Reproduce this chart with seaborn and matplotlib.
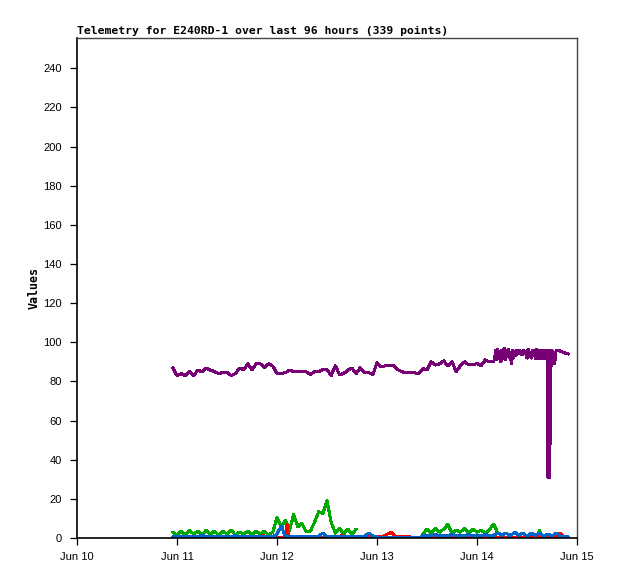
import matplotlib
matplotlib.use('Agg')
import matplotlib.pyplot as plt
import matplotlib.dates as mdates
import seaborn as sns
import pandas as pd

# hours counted from Jun 10 00:00
start = pd.Timestamp('2024-06-10')

purple_hours = list(range(23, 101)) + [
    100.25, 100.5, 100.75, 101, 101.25, 101.5, 101.75, 102, 102.25, 102.5,
    102.75, 103, 103.25, 103.5, 103.75, 104, 104.25, 104.5, 104.75, 105,
    105.25, 105.5, 105.75, 106, 106.25, 106.5, 106.75, 107, 107.25, 107.5,
    107.75, 108, 108.25, 108.5, 108.75, 109, 109.25, 109.5, 109.75, 110,
    110.25, 110.5, 110.75, 111, 111.25, 111.5, 111.75, 112, 112.25, 112.5,
    112.75, 112.9, 113.0, 113.2, 113.4, 113.6, 113.8, 114.2, 114.6, 115, 116,
    117, 118]
purple_vals = [
    87, 83, 84, 83, 85, 83, 85.8, 85, 86.8, 85.8, 85, 84, 84.5, 84.8, 83, 84,
    86.8, 86, 89, 86, 89, 89, 87, 89, 87.8, 84.1, 84.1, 84.5, 85.8, 85, 85, 85,
    84.9, 83.5, 85, 85, 86, 86, 83, 88, 83.5, 84, 85.8, 86.8, 84, 87, 84.5,
    84.5, 83.5, 89.5, 87.5, 88, 88, 88, 86, 84.9, 84.5, 84.4, 84.4, 84, 86.5,
    86, 90, 88.4, 89, 90.5, 88, 90, 85, 88, 90, 88.5, 88.5, 89.2, 88, 91, 90,
    90,
    92, 96, 91, 96.5, 92, 95, 90, 96, 92, 97, 91, 96, 93, 96.5, 92, 95, 89,
    96, 92, 95.5, 93, 96, 94, 95, 96, 94, 95.5, 93.5, 96, 94.5, 95, 92, 96.5,
    94, 95, 92, 96, 93, 96, 91.5, 96.5, 92, 96, 91.5, 96, 91.5, 96, 91.5, 96,
    91.5, 96, 96, 31, 96, 31, 61, 96, 95, 89, 96, 95.5, 94.6, 94]

green_hours_a = list(range(23, 68))
green_vals_a = [
    3, 1.5, 3.5, 1.5, 4, 2, 3.5, 1.5, 4, 2, 3.5, 1.5, 3.5, 2, 4, 1.5, 3, 2,
    3.5, 1.5, 3.5, 2, 3.5, 1.5, 3, 10.5, 5.5, 9, 4, 12, 5.8, 7.5, 3.2, 3.5, 8,
    13.5, 12.5, 19, 8, 2.5, 5, 2, 4.5, 2, 4.5]
green_hours_b = list(range(83, 102))
green_vals_b = [2, 4.5, 2.5, 5, 3, 4.5, 7, 2.5, 4, 3, 5, 2.5, 4.5, 3, 4, 2.5,
                4.5, 7, 2.5]
green_hours_c = [110.5, 111, 111.5]
green_vals_c = [0.5, 4, 0.5]

blue_hours = list(range(23, 119))
blue_vals = [
    0.5, 1, 0.5, 1, 0.5, 1, 0.5, 1.5, 0.5, 1, 0.5, 1, 0.5, 1, 0.5, 1.5, 0.5, 1,
    0.5, 1, 0.5, 1, 0.5, 1, 0.5,
    2, 6, 1, 0.5, 1, 0.5, 1, 0.5, 1, 0.5, 1, 2.5, 0.5, 1, 0.5, 1, 0.5, 1, 0.5,
    1, 0.5, 1, 2.5, 1, 0.5, 0, 0, 0, 0, 0, 0, 0, 0, 0, 0, 1, 1.5, 1, 2, 1, 1.5,
    1, 2, 1, 1.5, 1, 2, 1, 1.5, 1, 2, 1, 1.5, 2.5, 1.5, 2.5, 1, 3, 1.5, 2.5, 1,
    2.5, 1.5, 2.5, 1, 2, 1, 2.5, 1, 1, 0.5]

red_hours = [23, 44, 44.6, 45.2, 50, 50.4, 50.8, 63, 63.5, 64, 68, 68.3, 69,
             72, 73, 74, 75, 75.5, 76, 76.5, 80, 80.5, 83, 83.5, 84, 108, 108.5,
             109, 110, 111, 115, 115.5, 116, 116.5, 117, 118]
red_vals = [0, 0, 1.5, 0, 0, 7, 0, 0, 1.5, 0, 0, 1, 0.5, 1, 0.5, 1.5, 2.5, 3,
            1.5, 0.5, 0.5, 0, 0, 1, 0, 0, 1.5, 0.5, 1.5, 0, 0, 1.5, 2.5, 1.5,
            0.5, 0.5]


def to_df(hours, vals):
    return pd.DataFrame({'time': start + pd.to_timedelta(hours, unit='h'),
                         'value': vals})


sns.set_style('white')
fig = plt.figure(figsize=(6.18, 5.79), dpi=100)
ax = fig.add_axes([77 / 618, 1 - 538 / 579, 500 / 618, 500 / 579])

lw = 1.5
kw = dict(x='time', y='value', lw=lw, estimator=None, sort=False, ax=ax,
          antialiased=False)
sns.lineplot(data=to_df(purple_hours, purple_vals), color='#770077', **kw)
for h, v in [(green_hours_a, green_vals_a), (green_hours_b, green_vals_b),
             (green_hours_c, green_vals_c)]:
    sns.lineplot(data=to_df(h, v), color='#00aa00', **kw)
sns.lineplot(data=to_df(red_hours, red_vals), color='#ff0000', **kw)
sns.lineplot(data=to_df(blue_hours, blue_vals), color='#0066cc', **kw)

ax.set_xlim(start, start + pd.Timedelta(days=5))
ax.set_ylim(0, 255.5)
ax.set_yticks(range(0, 241, 20))
ax.xaxis.set_major_locator(mdates.DayLocator())
ax.xaxis.set_major_formatter(mdates.DateFormatter('%b %d'))

for side in ['top', 'right']:
    ax.spines[side].set_color('#444444')
    ax.spines[side].set_linewidth(1)
for side in ['left', 'bottom']:
    ax.spines[side].set_color('black')
    ax.spines[side].set_linewidth(1.2)

ax.tick_params(axis='both', direction='out', length=5, width=0.9,
               color='black', labelcolor='black', labelsize=8,
               bottom=True, left=True)
ax.tick_params(axis='y', pad=6)
ax.tick_params(axis='x', pad=5)
for lab in ax.get_xticklabels() + ax.get_yticklabels():
    lab.set_fontfamily('Liberation Sans')

ax.set_xlabel('')
ax.set_ylabel('Values', fontfamily='DejaVu Sans Mono', fontweight='bold',
              fontsize=8.4, labelpad=2, color='black')
ax.set_title('Telemetry for E240RD-1 over last 96 hours (339 points)',
             loc='left', fontfamily='DejaVu Sans Mono', fontweight='bold',
             fontsize=8.2, pad=3, color='black')

fig.savefig('out.png', dpi=100)
